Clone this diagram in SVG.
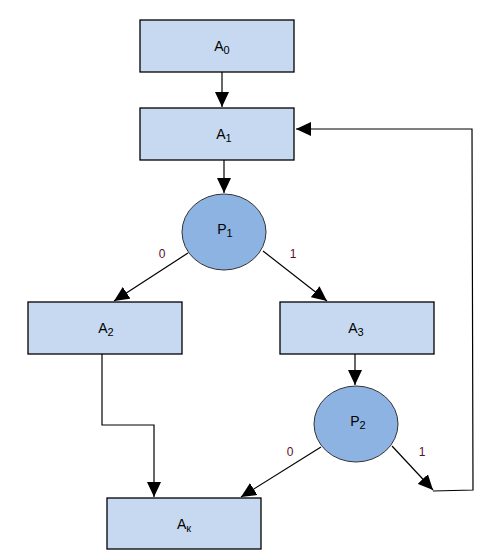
<svg xmlns="http://www.w3.org/2000/svg" width="490" height="560" viewBox="0 0 490 560">
<style>
.box{fill:#c6d9f0;stroke:#000;stroke-width:1.3}
.dec{fill:#8db3e2;stroke:#333;stroke-width:1}
.lbl{font-family:"Liberation Sans",Arial,sans-serif;font-size:14px;fill:#000;text-anchor:middle}
.sub{font-size:11px}
.edge{fill:none;stroke:#000;stroke-width:1.2}
.num{font-family:"Liberation Sans",Arial,sans-serif;font-size:12px;fill:#5a0f30;text-anchor:middle}
</style>
<defs>
<marker id="ah" markerUnits="userSpaceOnUse" markerWidth="16" markerHeight="14" viewBox="0 0 16 14" refX="15" refY="7" orient="auto">
<path d="M0,0 L15,7 L0,14 Z" fill="#000"/>
</marker>
</defs>
<g id="connectors">
<path class="edge" d="M222,72 L222,107" marker-end="url(#ah)"/>
<path class="edge" d="M224,160 L224,193" marker-end="url(#ah)"/>
<path class="edge" d="M188,253 L114,301" marker-end="url(#ah)"/>
<path class="edge" d="M263,251 L327,301" marker-end="url(#ah)"/>
<path class="edge" d="M102,354 L102,425 L154,425 L154,497" marker-end="url(#ah)"/>
<path class="edge" d="M355,354 L355,385" marker-end="url(#ah)"/>
<path class="edge" d="M321,447 L241,497" marker-end="url(#ah)"/>
<path class="edge" d="M392,446 L433,490" marker-end="url(#ah)"/>
<path class="edge" d="M433,491 L473,490 L472,129 L296,129" marker-end="url(#ah)"/>
<text class="num" x="162" y="258">0</text>
<text class="num" x="293" y="258">1</text>
<text class="num" x="290" y="456">0</text>
<text class="num" x="422" y="456">1</text>
</g>
<g id="A0">
<rect class="box" x="140" y="20" width="154" height="52"/>
<text class="lbl" x="222" y="51">A<tspan class="sub" dy="3">0</tspan></text>
</g>
<g id="A1">
<rect class="box" x="140" y="108" width="154" height="52"/>
<text class="lbl" x="224" y="139">A<tspan class="sub" dy="3">1</tspan></text>
</g>
<g id="P1">
<ellipse class="dec" cx="224" cy="232" rx="42" ry="38"/>
<text class="lbl" x="225" y="234">P<tspan class="sub" dy="3">1</tspan></text>
</g>
<g id="A2">
<rect class="box" x="28" y="302" width="154" height="52"/>
<text class="lbl" x="106" y="333">A<tspan class="sub" dy="3">2</tspan></text>
</g>
<g id="A3">
<rect class="box" x="280" y="302" width="154" height="52"/>
<text class="lbl" x="356" y="333">A<tspan class="sub" dy="3">3</tspan></text>
</g>
<g id="P2">
<ellipse class="dec" cx="356" cy="424" rx="42" ry="38"/>
<text class="lbl" x="358" y="426">P<tspan class="sub" dy="3">2</tspan></text>
</g>
<g id="Ak">
<rect class="box" x="107" y="498" width="154" height="51"/>
<text class="lbl" x="184" y="529">A<tspan class="sub" dy="3">к</tspan></text>
</g>
</svg>
